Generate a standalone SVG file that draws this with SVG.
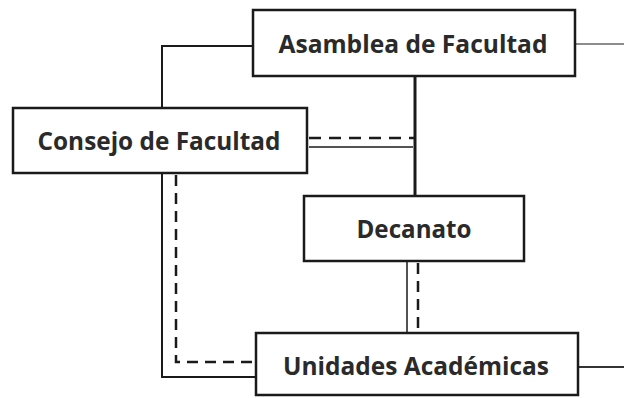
<svg xmlns="http://www.w3.org/2000/svg" width="624" height="398" viewBox="0 0 624 398">
<style>
.box{fill:#fff;stroke:#1a1a1a;stroke-width:2.5}
.lbl{font-family:"Open Sans","Noto Sans",sans-serif;font-weight:700;font-size:25px;fill:#2a2a2a;text-anchor:middle}
.s{fill:none;stroke:#1a1a1a;stroke-width:2}
.d{fill:none;stroke:#1a1a1a;stroke-width:2.5;stroke-dasharray:11,7}
.g{fill:none;stroke:#666;stroke-width:1.5}
</style>
<rect width="624" height="398" fill="#fff"/>
<g id="connectors">
<polyline class="s" points="253,46 162,46 162,108"/>
<line class="s" x1="415" y1="76" x2="415" y2="196" style="stroke-width:3"/>
<line class="g" x1="575" y1="44" x2="624" y2="44"/>
<line class="d" x1="309" y1="138" x2="415" y2="138" style="stroke-dasharray:12,8"/>
<line class="s" x1="309" y1="147" x2="413" y2="147" style="stroke-width:1.5"/>
<polyline class="s" points="162,173 162,377 256,377"/>
<polyline class="d" points="176,175 176,362 256,362"/>
<line class="s" x1="407" y1="261" x2="407" y2="333" style="stroke-width:1.5"/>
<line class="d" x1="418" y1="263" x2="418" y2="333"/>
<line class="g" x1="578" y1="367" x2="624" y2="367" style="stroke:#333;stroke-width:2"/>
</g>
<g id="asamblea">
<rect class="box" x="253" y="10" width="322" height="66"/>
<text class="lbl" x="413" y="53" textLength="269" lengthAdjust="spacingAndGlyphs">Asamblea de Facultad</text>
</g>
<g id="consejo">
<rect class="box" x="13" y="108" width="294" height="65"/>
<text class="lbl" x="159" y="150" textLength="243" lengthAdjust="spacingAndGlyphs">Consejo de Facultad</text>
</g>
<g id="decanato">
<rect class="box" x="304" y="196" width="220" height="65"/>
<text class="lbl" x="414" y="238" textLength="115" lengthAdjust="spacingAndGlyphs">Decanato</text>
</g>
<g id="unidades">
<rect class="box" x="256" y="333" width="322" height="62"/>
<text class="lbl" x="416" y="375" textLength="266" lengthAdjust="spacingAndGlyphs">Unidades Académicas</text>
</g>
</svg>
